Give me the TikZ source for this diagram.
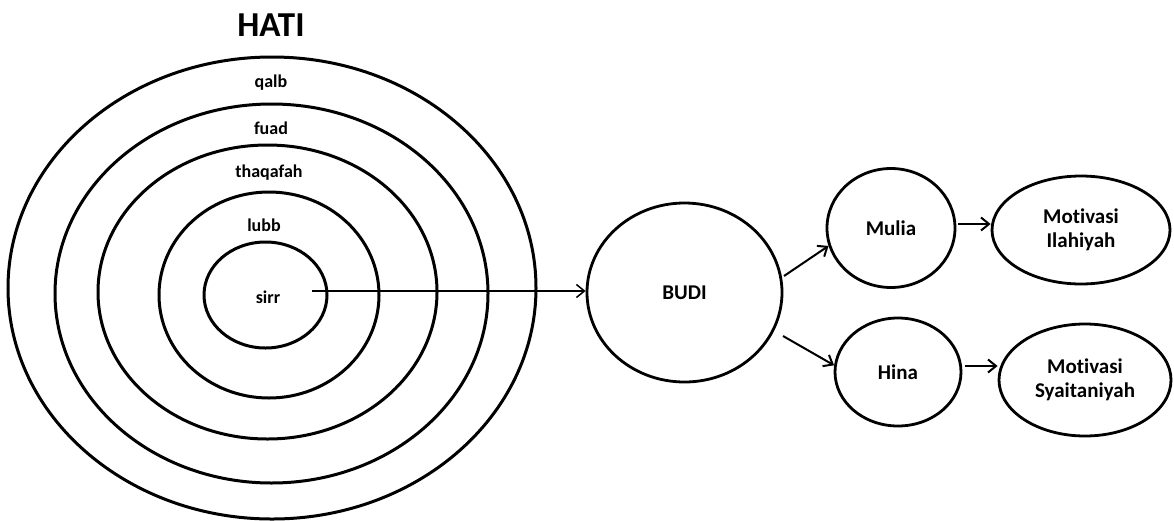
\documentclass[tikz,border=0pt]{standalone}
\usepackage{fontspec}
\setmainfont{Carlito}[Ligatures=NoCommon]
\usetikzlibrary{shapes.geometric,arrows.meta}
\begin{document}
\begin{tikzpicture}[x=1pt,y=-1pt,
  ring/.style={draw,line width=3pt,ellipse,inner sep=0pt},
  bubble/.style={draw,line width=2.8pt,ellipse,inner sep=0pt,align=center,font=\bfseries\fontsize{21}{24}\selectfont},
  lbl/.style={font=\bfseries\fontsize{18}{21}\selectfont,inner sep=0pt},
  arr/.style={line width=2pt,-{Straight Barb[length=8pt,width=13pt,line width=2pt]}},
  thinarr/.style={line width=1.5pt,-{Straight Barb[length=8pt,width=13pt,line width=1.5pt]}}]
\useasboundingbox[fill=white] (0,0) rectangle (1174,520);
% rings
\node[ring,minimum width=528pt,minimum height=462pt] (qalbring) at (272,288) {};
\node[ring,minimum width=433pt,minimum height=379pt] (fuadring) at (271.5,293.5) {};
\node[ring,minimum width=339pt,minimum height=294pt] (thaqring) at (267.5,292) {};
\node[ring,minimum width=220pt,minimum height=206pt] (lubbring) at (269,295) {};
\node[ring,minimum width=123pt,minimum height=106pt] (sirr) at (265.5,295) {};
% labels
\node[font=\bfseries\fontsize{35}{40}\selectfont,inner sep=0pt] (hati) at (271,25) {HATI};
\node[lbl] (qalb) at (271,83) {qalb};
\node[lbl] (fuad) at (271,128) {fuad};
\node[lbl] (thaqafah) at (269,173) {thaqafah};
\node[lbl] (lubb) at (264,225) {lubb};
\node[lbl] (sirrlbl) at (268,297) {sirr};
% right side
\node[bubble,minimum width=195pt,minimum height=179pt] (budi) at (684.5,292.5) {BUDI};
\node[bubble,minimum width=128pt,minimum height=119pt] (mulia) at (891,228) {Mulia};
\node[bubble,minimum width=178pt,minimum height=108pt] (ilahi) at (1081,230) {Motivasi\\Ilahiyah};
\node[bubble,minimum width=126pt,minimum height=108pt] (hina) at (898,372) {Hina};
\node[bubble,minimum width=172pt,minimum height=112pt] (syait) at (1085,380) {Motivasi\\Syaitaniyah};
% connectors
\coordinate (s0) at (312,291);
\draw[thinarr] (s0) -- (budi.west |- s0);
\coordinate (b1) at (784,276);
\coordinate (b2) at (783,336);
\draw[arr] (b1) -- (mulia.196);
\draw[arr] (b2) -- (hina.174);
\draw[arr] (mulia.east) ++(2pt,4pt) coordinate (m0) -- (ilahi.west |- m0);
\draw[arr] (hina.east) ++(3pt,6pt) coordinate (h0) -- (syait.west |- h0);
\end{tikzpicture}
\end{document}
